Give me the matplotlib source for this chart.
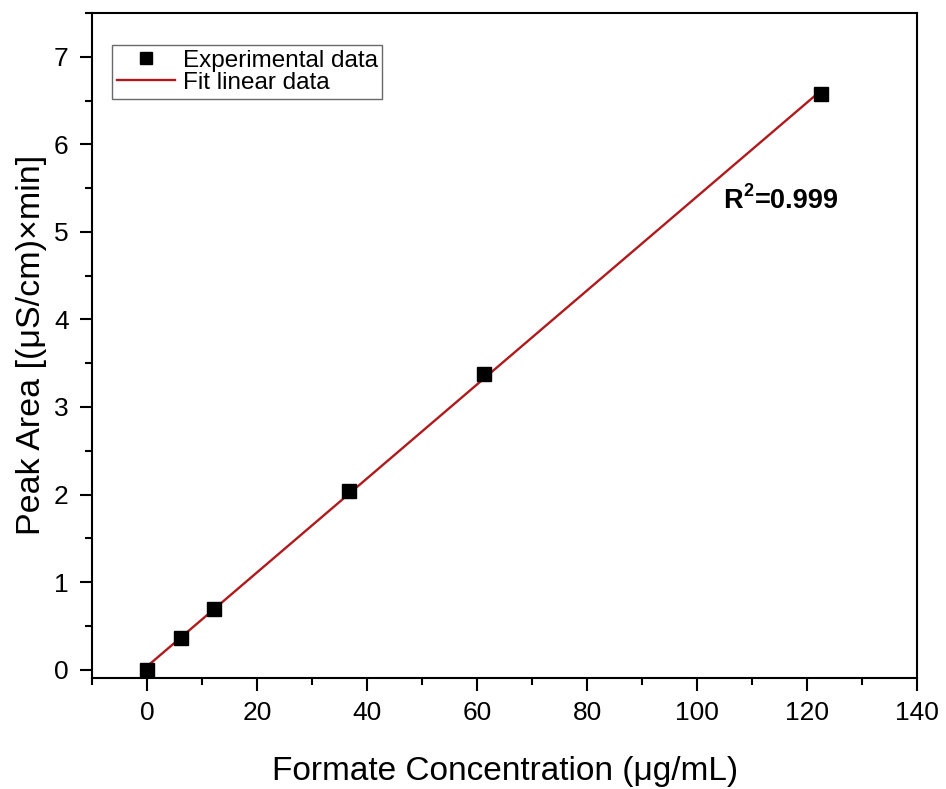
import numpy as np
import matplotlib
matplotlib.use("Agg")
import matplotlib.pyplot as plt
from matplotlib.ticker import MultipleLocator

plt.rcParams['font.family'] = ['Liberation Sans', 'DejaVu Sans']

conc = [0.0, 6.1, 12.2, 36.7, 61.2, 122.6]
area = [0.0, 0.36, 0.69, 2.04, 3.38, 6.58]
xlabel = "Formate Concentration (μg/mL)"
ylabel = "Peak Area [(μS/cm)×min]"
r2_base, r2_sup, r2_value = "R", "2", "=0.999"

fig = plt.figure(figsize=(9.46, 7.89), dpi=100)
ax = fig.add_axes([0.0976, 0.1413, 0.8717, 0.8422])

slope, intercept = np.polyfit(conc, area, 1)
xf = np.array([0.0, max(conc)])
ax.plot(xf, slope * xf + intercept, color='#b01a1c', lw=1.7, label='Fit linear data', zorder=2)
ax.plot(conc, area, 's', color='black', ms=10, ls='none', label='Experimental data', zorder=3)

ax.set_xlim(-10, 140)
ax.set_ylim(-0.09, 7.5)
ax.xaxis.set_major_locator(MultipleLocator(20))
ax.xaxis.set_minor_locator(MultipleLocator(10))
ax.yaxis.set_major_locator(MultipleLocator(1))
ax.yaxis.set_minor_locator(MultipleLocator(0.5))

for s in ax.spines.values():
    s.set_linewidth(1.5)
ax.tick_params(which='major', direction='out', length=9, width=1.5, labelsize=19, pad=8)
ax.tick_params(which='minor', direction='out', length=5, width=1.5)
ax.tick_params(top=False, right=False)

ax.set_xlabel(xlabel, fontsize=24, labelpad=22)
ax.set_ylabel(ylabel, fontsize=24.5, labelpad=5)

anchor = (104.8, 5.35)
ax.text(*anchor, r2_base, fontsize=19.5, fontweight='bold', va='center', ha='left')
ax.annotate(r2_sup, xy=anchor, xytext=(14.5, 7), textcoords='offset points',
            fontsize=13, fontweight='bold', va='center', ha='left')
ax.annotate(r2_value, xy=anchor, xytext=(22.5, 0), textcoords='offset points',
            fontsize=19.5, fontweight='bold', va='center', ha='left')

handles, labels = ax.get_legend_handles_labels()
leg = ax.legend(handles[::-1], labels[::-1], loc='upper left', bbox_to_anchor=(0.024, 0.952),
                fontsize=17.5, frameon=True, fancybox=False, edgecolor='#444444',
                borderaxespad=0, handlelength=2.4, handletextpad=0.3, borderpad=0.2,
                labelspacing=0.0, markerscale=0.85)
leg.get_frame().set_linewidth(1.0)

fig.savefig('out.png', dpi=100)
